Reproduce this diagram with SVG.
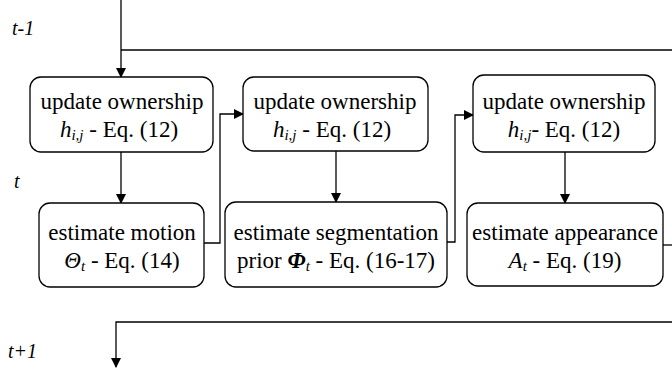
<svg xmlns="http://www.w3.org/2000/svg" width="672" height="371" viewBox="0 0 672 371" font-family="'Liberation Serif', 'Times New Roman', 'DejaVu Serif', serif">
<defs>
<marker id="ah" markerWidth="10" markerHeight="10" refX="9" refY="5" orient="auto" markerUnits="userSpaceOnUse" viewBox="0 0 10 10">
<path d="M0,0 L10,5 L0,10 Z" fill="#000"/>
</marker>
</defs>
<style>
text{font-family:'Liberation Serif','Times New Roman','DejaVu Serif',serif}
.box{fill:#fff;stroke:#000;stroke-width:1.3}
.t{font-size:23px;fill:#000;text-anchor:middle}
.i{font-style:italic}
.s{font-style:italic;font-size:15px}
.lbl{font-size:20px;font-style:italic;fill:#000}
.c{fill:none;stroke:#000;stroke-width:1.3}
</style>
<rect width="672" height="371" fill="#fff"/>
<text class="lbl" x="12" y="35">t-1</text>
<text class="lbl" x="14" y="188">t</text>
<text class="lbl" x="8" y="358">t+1</text>
<g id="connectors">
<path class="c" d="M121,0 V77" stroke="#777" marker-end="url(#ah)"/>
<path class="c" d="M121,50 H672"/>
<path class="c" d="M121,152 V203" marker-end="url(#ah)"/>
<path class="c" d="M204,243 H220 V114 H243" marker-end="url(#ah)"/>
<path class="c" d="M336,151 V202" marker-end="url(#ah)"/>
<path class="c" d="M447,242 H455 V115 H473" marker-end="url(#ah)"/>
<path class="c" d="M565,152 V203" marker-end="url(#ah)"/>
<path class="c" d="M663,245 H672"/>
<path class="c" d="M672,322 H116 V367" marker-end="url(#ah)"/>
</g>
<g id="n1">
<rect class="box" x="30" y="77" width="183" height="75" rx="11"/>
<text class="t" x="122" y="109">update ownership</text>
<text class="t" x="119" y="137"><tspan class="i">h</tspan><tspan class="s" dy="3">i,j</tspan><tspan dy="-3"> - Eq. (12)</tspan></text>
</g>
<g id="n2">
<rect class="box" x="243" y="77" width="185" height="74" rx="11"/>
<text class="t" x="335" y="109">update ownership</text>
<text class="t" x="332" y="137"><tspan class="i">h</tspan><tspan class="s" dy="3">i,j</tspan><tspan dy="-3"> - Eq. (12)</tspan></text>
</g>
<g id="n3">
<rect class="box" x="473" y="75" width="182" height="77" rx="11"/>
<text class="t" x="564" y="109">update ownership</text>
<text class="t" x="564" y="137"><tspan class="i">h</tspan><tspan class="s" dy="3">i,j</tspan><tspan dy="-3">- Eq. (12)</tspan></text>
</g>
<g id="n4">
<rect class="box" x="39" y="203" width="165" height="84" rx="11"/>
<text class="t" x="122" y="240">estimate motion</text>
<text class="t" x="122" y="268"><tspan class="i">Θ</tspan><tspan class="s" dy="3">t</tspan><tspan dy="-3"> - Eq. (14)</tspan></text>
</g>
<g id="n5">
<rect class="box" x="225" y="202" width="222" height="85" rx="11"/>
<text class="t" x="336" y="240">estimate segmentation</text>
<text class="t" x="336" y="268">prior <tspan class="i" font-weight="bold">Φ</tspan><tspan class="s" dy="3">t</tspan><tspan dy="-3"> - Eq. (16-17)</tspan></text>
</g>
<g id="n6">
<rect class="box" x="467" y="203" width="196" height="83" rx="11"/>
<text class="t" x="565" y="240">estimate appearance</text>
<text class="t" x="565" y="268"><tspan class="i">A</tspan><tspan class="s" dy="3">t</tspan><tspan dy="-3"> - Eq. (19)</tspan></text>
</g>
</svg>
